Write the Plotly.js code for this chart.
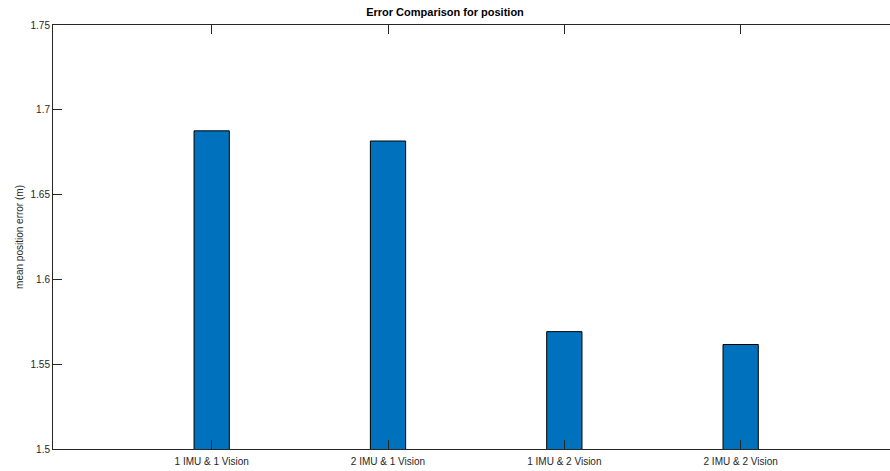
<!DOCTYPE html>
<html>
<head>
<meta charset="utf-8">
<script src="https://cdn.plot.ly/plotly-3.0.1.min.js"></script>
<style>
  html, body { margin: 0; padding: 0; background: #fff; overflow: hidden; }
  #chart { width: 890px; height: 471px; }
</style>
</head>
<body>
<div id="chart"></div>
<script>
// Configurations compared
const configPositions = [1, 2, 3, 4];
const configLabels = ['1 IMU & 1 Vision', '2 IMU & 1 Vision', '1 IMU & 2 Vision', '2 IMU & 2 Vision'];
// Mean position error per configuration (m)
const meanPositionError = [1.6876, 1.6816, 1.5692, 1.5616];
// Y axis ticks
const yTickValues = [1.5, 1.55, 1.6, 1.65, 1.7, 1.75];
const yTickLabels = ['1.5', '1.55', '1.6', '1.65', '1.7', '1.75'];

const axisColor = '#262626';
const textFont = { family: 'Liberation Sans, Arial, sans-serif', size: 10, color: axisColor };

const trace = {
  type: 'bar',
  x: configPositions,
  y: meanPositionError,
  width: 0.2,
  marker: { color: '#0072BD', line: { color: '#000000', width: 1 } },
  hoverinfo: 'x+y'
};

const layout = {
  width: 890,
  height: 471,
  margin: { l: 53, r: 0, t: 25, b: 22 },
  paper_bgcolor: '#ffffff',
  plot_bgcolor: '#ffffff',
  showlegend: false,
  bargap: 0,
  title: {
    text: '<b>Error Comparison for position</b>',
    font: { family: 'Liberation Sans, Arial, sans-serif', size: 11, color: '#000000' },
    x: 476, xref: 'container', xanchor: 'center',
    y: 16, yref: 'container', yanchor: 'middle'
  },
  xaxis: {
    // the axes box continues past the right edge of the figure
    range: [0.1, 4.847],
    tickvals: configPositions,
    ticktext: configLabels,
    ticks: 'inside',
    ticklen: 9,
    tickwidth: 1,
    tickcolor: axisColor,
    ticklabelstandoff: 3,
    showline: true,
    linecolor: axisColor,
    linewidth: 1,
    mirror: 'ticks',
    showgrid: false,
    zeroline: false,
    tickfont: textFont,
    fixedrange: true
  },
  yaxis: {
    range: [1.5, 1.75],
    tickvals: yTickValues,
    ticktext: yTickLabels,
    ticks: 'inside',
    ticklen: 9,
    tickwidth: 1,
    tickcolor: axisColor,
    showline: true,
    linecolor: axisColor,
    linewidth: 1,
    mirror: false,
    showgrid: false,
    zeroline: false,
    tickfont: textFont,
    title: { text: 'mean position error (m)', font: textFont, standoff: 5 },
    fixedrange: true
  }
};

Plotly.newPlot('chart', [trace], layout, { displayModeBar: false, staticPlot: true });
</script>
</body>
</html>
